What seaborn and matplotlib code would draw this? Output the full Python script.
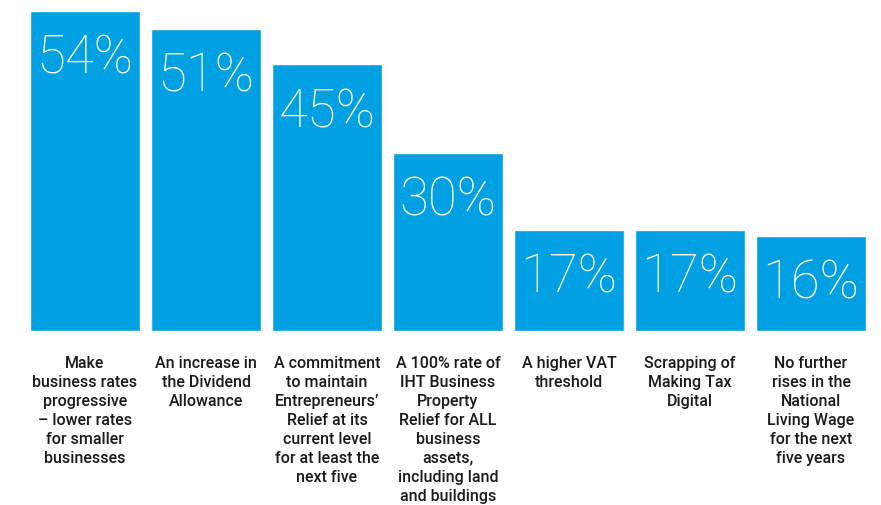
import matplotlib
matplotlib.use("Agg")
import matplotlib.pyplot as plt
import seaborn as sns
import pandas as pd

categories = [
    "Make\nbusiness rates\nprogressive\n– lower rates\nfor smaller\nbusinesses",
    "An increase in\nthe Dividend\nAllowance",
    "A commitment\nto maintain\nEntrepreneurs’\nRelief at its\ncurrent level\nfor at least the\nnext five",
    "A 100% rate of\nIHT Business\nProperty\nRelief for ALL\nbusiness\nassets,\nincluding land\nand buildings",
    "A higher VAT\nthreshold",
    "Scrapping of\nMaking Tax\nDigital",
    "No further\nrises in the\nNational\nLiving Wage\nfor the next\nfive years",
]
values = [54, 51, 45, 30, 17, 17, 16]
value_labels = ["54%", "51%", "45%", "30%", "17%", "17%", "16%"]

sns.set_theme(style="white")
plt.rcParams["font.family"] = ["Roboto", "DejaVu Sans"]

df = pd.DataFrame({"cat": categories, "val": values})

fig = plt.figure(figsize=(8.81, 5.05), dpi=100)
ax = fig.add_axes([24.5 / 881, (505 - 331) / 505, 847 / 881, 320 / 505])

bar_color = "#00A0E3"
sns.barplot(data=df, x="cat", y="val", hue="cat", palette=[bar_color] * len(values),
            legend=False, width=110 / 121, saturation=1, ax=ax)

ax.set_xlim(-0.5, len(values) - 0.5)
ax.set_ylim(0, 54)
for s in ax.spines.values():
    s.set_visible(False)
ax.set_yticks([])
ax.set_xlabel("")
ax.set_ylabel("")

for i, (v, lab) in enumerate(zip(values, value_labels)):
    ax.annotate(lab, xy=(i, v), xytext=(0, -16), textcoords="offset points",
                ha="center", va="top", color="white", fontsize=38,
                fontweight="light")

ax.tick_params(axis="x", length=0, pad=18)
ax.set_xticks(range(len(categories)))
ax.set_xticklabels(categories, fontsize=11.5, fontweight="medium", color="#1a1a1a",
                   linespacing=1.33, va="top", ha="center")

fig.savefig("out.png", dpi=100)
